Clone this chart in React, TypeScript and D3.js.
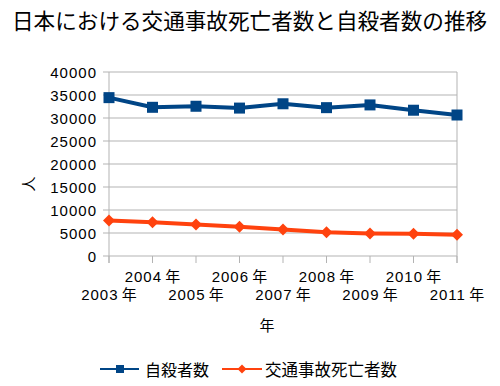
import React from "react";
import * as d3 from "d3";

const years = ["2003", "2004", "2005", "2006", "2007", "2008", "2009", "2010", "2011"];
const suicides = [34427, 32325, 32552, 32155, 33093, 32249, 32845, 31690, 30651];
const trafficDeaths = [7702, 7358, 6871, 6352, 5744, 5155, 4914, 4863, 4611];
const yTicks = [0, 5000, 10000, 15000, 20000, 25000, 30000, 35000, 40000];
const seriesNames = ["自殺者数", "交通事故死亡者数"];
const title = "日本における交通事故死亡者数と自殺者数の推移";

const BLUE = "#004586";
const RED = "#ff420e";
const GRID = "#b3b3b3";
const NUM_FONT = "'Liberation Sans', Arial, 'Noto Sans CJK JP', sans-serif";
const CJK_FONT = "'Noto Sans CJK JP', sans-serif";

export default function App() {
  const W = 500, H = 386;
  const left = 109, right = 457, top = 72, bottom = 256;
  const x = d3.scalePoint<string>().domain(years).range([left, right]);
  const y = d3.scaleLinear().domain([0, 40000]).range([bottom, top]);
  const line = d3.line<number>().x((_, i) => x(years[i])!).y((d) => y(d));

  const diamond = (cx: number, cy: number, r: number) =>
    `M${cx},${cy - r}L${cx + r},${cy}L${cx},${cy + r}L${cx - r},${cy}Z`;

  return (
    <svg width={W} height={H} style={{ position: "absolute", left: 0, top: 0, background: "#fff" }}>
      <rect width={W} height={H} fill="#fff" />
      <text x={12} y={29} fontFamily={CJK_FONT} fontSize={21.6} fill="#000">{title}</text>

      {/* grid */}
      {yTicks.map((t) => (
        <g key={t}>
          <line x1={left - 6} x2={right} y1={y(t)} y2={y(t)} stroke={GRID} strokeWidth={1} />
          <text x={97} y={y(t) + 5.5} textAnchor="end" fontFamily={NUM_FONT} fontSize={15} letterSpacing={1} fill="#000">{t}</text>
        </g>
      ))}
      <line x1={left} x2={left} y1={top} y2={bottom + 7} stroke={GRID} strokeWidth={1} />
      <line x1={right} x2={right} y1={top} y2={bottom + 7} stroke={GRID} strokeWidth={1} />
      {years.map((yr, i) => (
        <g key={yr}>
          <line x1={x(yr)!} x2={x(yr)!} y1={bottom} y2={bottom + 7} stroke={GRID} strokeWidth={1} />
          <text x={x(yr)!} y={i % 2 === 0 ? 300 : 282} textAnchor="middle" fontSize={15} fill="#000">
            <tspan fontFamily={NUM_FONT} letterSpacing={1}>{yr}</tspan>
            <tspan fontFamily={CJK_FONT}> 年</tspan>
          </text>
        </g>
      ))}

      {/* axis titles */}
      <text x={267} y={331} textAnchor="middle" fontFamily={CJK_FONT} fontSize={15} fill="#000">年</text>
      <text transform="translate(34,184) rotate(-90)" textAnchor="middle" fontFamily={CJK_FONT} fontSize={15} fill="#000">人</text>

      {/* series */}
      <path d={line(trafficDeaths)!} fill="none" stroke={RED} strokeWidth={4} strokeLinejoin="round" />
      {trafficDeaths.map((v, i) => (
        <path key={i} d={diamond(x(years[i])!, y(v), 6)} fill={RED} />
      ))}
      <path d={line(suicides)!} fill="none" stroke={BLUE} strokeWidth={4} strokeLinejoin="round" />
      {suicides.map((v, i) => (
        <rect key={i} x={x(years[i])! - 5.5} y={y(v) - 5.5} width={11} height={11} fill={BLUE} />
      ))}

      {/* legend */}
      <line x1={100} x2={139} y1={369} y2={369} stroke={BLUE} strokeWidth={2} />
      <rect x={116} y={365} width={8} height={8} fill={BLUE} />
      <text x={145} y={375.5} fontFamily={CJK_FONT} fontSize={16} fill="#000">{seriesNames[0]}</text>
      <line x1={222} x2={262} y1={369} y2={369} stroke={RED} strokeWidth={2} />
      <path d={diamond(242, 369, 4.5)} fill={RED} />
      <text x={265} y={375.5} fontFamily={CJK_FONT} fontSize={16.5} fill="#000">{seriesNames[1]}</text>
    </svg>
  );
}
